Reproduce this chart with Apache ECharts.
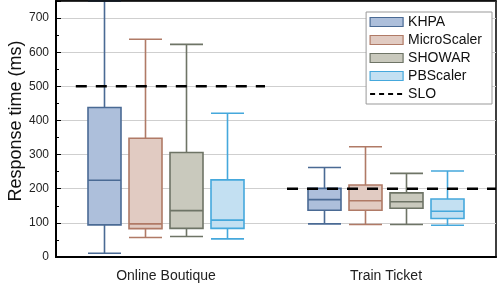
<!DOCTYPE html>
<html>
<head>
<meta charset="utf-8">
<script src="https://cdn.jsdelivr.net/npm/echarts@6/dist/echarts.min.js"></script>
<style>
html,body{margin:0;padding:0;background:#fff;}
#chart{width:498px;height:285px;}
</style>
</head>
<body>
<div id="chart"></div>
<script>
// ---- data ----
var categories = ['Online Boutique', 'Train Ticket'];
var methods = ['KHPA', 'MicroScaler', 'SHOWAR', 'PBScaler'];
// [min, Q1, median, Q3, max] per category
var khpa        = [[11, 94, 225, 438, 750], [97, 137, 168, 201, 262]];
var microScaler = [[57, 83, 97, 348, 638],  [95, 137, 165, 211, 323]];
var showar      = [[60, 84, 136, 306, 623], [95, 143, 162, 188, 245]];
var pbScaler    = [[53, 84, 108, 226, 421], [93, 113, 134, 170, 252]];
var sloValues = [500, 200];
var sloSpans = [[0.09, 0.95], [1.05, 2]];
var yTicks = [0, 100, 200, 300, 400, 500, 600, 700];

// ---- styles ----
var fills   = ['#adbfdb', '#e1cbc2', '#c9c9bd', '#c3e0f2'];
var strokes = ['#4a6a94', '#b07a66', '#6e7466', '#45a8dc'];
var offsets = [-61.5, -20.5, 20.5, 61.5];
var FONT = "'Liberation Sans', Arial, Helvetica, sans-serif";
var G = {left: 56, right: 2, top: 1, bottom: 28};
var YMAX = 750;

var seriesData = [khpa, microScaler, showar, pbScaler];

var grids = [{left: G.left, right: G.right, top: G.top, bottom: G.bottom,
  containLabel: false, outerBoundsMode: 'none',
  show: true, borderColor: '#000', borderWidth: 1.5, backgroundColor: 'transparent'}];
var xAxes = [
  {type: 'category', gridIndex: 0, data: categories, boundaryGap: true,
   axisLine: {show: true, lineStyle: {color: '#000', width: 2}},
   axisTick: {show: false},
   axisLabel: {fontFamily: FONT, fontSize: 14, color: '#222', margin: 12},
   splitLine: {show: false}},
  {type: 'value', gridIndex: 0, min: 0, max: 2, position: 'top', z: 10,
   axisLine: {show: true, onZero: false, lineStyle: {color: '#000', width: 1.5}},
   axisTick: {show: false}, axisLabel: {show: false}, splitLine: {show: false}}
];
var yAxes = [
  {type: 'value', gridIndex: 0, min: 0, max: YMAX, interval: 100,
   name: 'Response time (ms)', nameLocation: 'middle', nameGap: 31, nameMoveOverlap: false,
   nameTextStyle: {fontFamily: FONT, fontSize: 18, color: '#111', padding: [0, 0, 0, 16]},
   axisLine: {show: true, lineStyle: {color: '#000', width: 2}},
   axisTick: {show: true, inside: true, length: 5, lineStyle: {color: '#000', width: 1}},
   minorTick: {show: true, splitNumber: 2, length: 3, lineStyle: {color: '#000', width: 1}},
   axisLabel: {fontFamily: FONT, fontSize: 12, color: '#222', margin: 7,
     formatter: function (v) { return yTicks.indexOf(v) >= 0 ? String(v) : ''; }},
   showMaxLabel: false,
   splitLine: {show: true, lineStyle: {color: '#cfcfcf', width: 1}}}
];
var series = [];

methods.forEach(function (m, i) {
  var gi = i + 1;
  grids.push({left: G.left + offsets[i], right: G.right - offsets[i], top: G.top, bottom: G.bottom,
    containLabel: false, outerBoundsMode: 'none'});
  xAxes.push({type: 'category', gridIndex: gi, data: categories, show: false});
  yAxes.push({type: 'value', gridIndex: gi, min: 0, max: YMAX, show: false});
  series.push({
    name: m, type: 'boxplot', xAxisIndex: i + 2, yAxisIndex: i + 1,
    boxWidth: [33, 33], z: 2,
    itemStyle: {color: fills[i], borderColor: strokes[i], borderWidth: 1.6},
    emphasis: {disabled: true},
    data: seriesData[i]
  });
});

sloValues.forEach(function (v, k) {
  series.push({
    name: 'SLO', type: 'line', xAxisIndex: 1, yAxisIndex: 0, z: 5,
    symbol: 'none', silent: true,
    itemStyle: {color: '#000'},
    lineStyle: {color: '#000', width: 2.5, type: [11, 9]},
    data: [[sloSpans[k][0], v], [sloSpans[k][1], v]]
  });
});

var legendData = methods.map(function (m, i) {
  return {name: m, icon: 'rect', itemStyle: {color: fills[i], borderColor: strokes[i], borderWidth: 1.2}};
});
legendData.push({name: 'SLO', itemStyle: {color: 'rgba(0,0,0,0)', borderWidth: 0, opacity: 0},
  lineStyle: {color: '#000', width: 2, type: [5, 4]}});

var option = {
  animation: false,
  backgroundColor: '#fff',
  grid: grids,
  xAxis: xAxes,
  yAxis: yAxes,
  legend: {
    orient: 'vertical', right: 6, top: 12,
    backgroundColor: '#fff', borderColor: '#999', borderWidth: 1,
    padding: [3, 10, 3, 3], itemGap: 4, itemWidth: 33, itemHeight: 9, itemTextGap: 4,
    textStyle: {fontFamily: FONT, fontSize: 14, color: '#111', lineHeight: 14},
    data: legendData
  },
  series: series
};

var chart = echarts.init(document.getElementById('chart'), null, {renderer: 'canvas'});
chart.setOption(option);
</script>
</body>
</html>
